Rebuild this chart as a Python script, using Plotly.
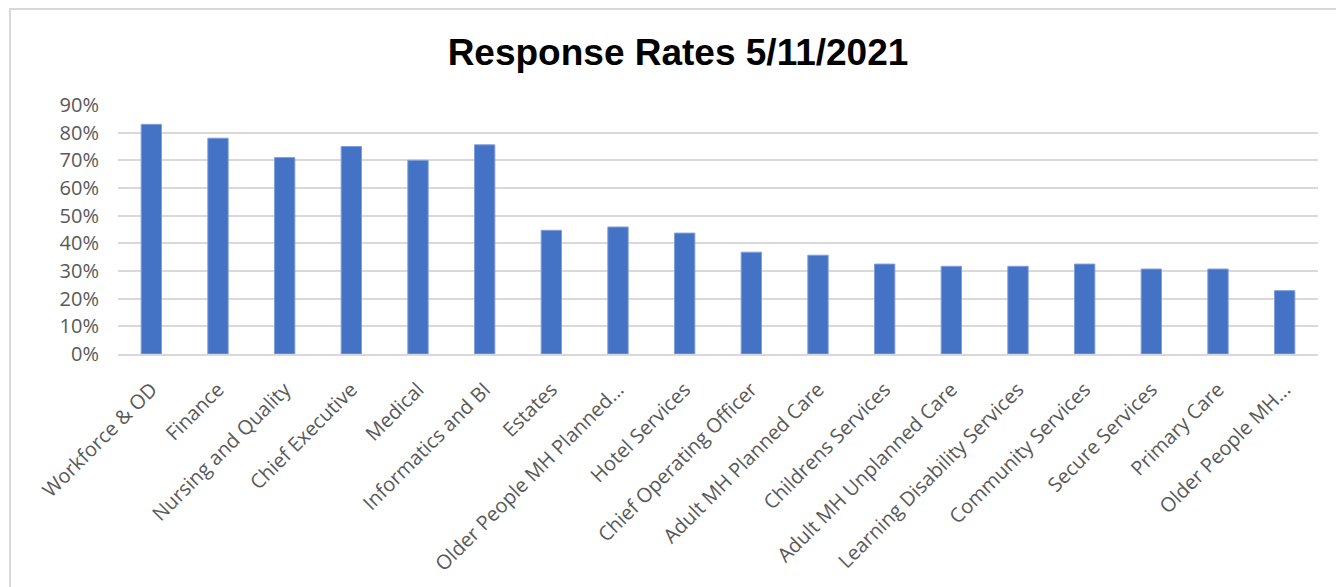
import plotly.graph_objects as go

categories = [
    "Workforce & OD", "Finance", "Nursing and Quality", "Chief Executive", "Medical",
    "Informatics and BI", "Estates", "Older People MH Planned...", "Hotel Services",
    "Chief Operating Officer", "Adult MH Planned Care", "Childrens Services",
    "Adult MH Unplanned Care", "Learning Disability Services", "Community Services",
    "Secure Services", "Primary Care", "Older People MH...",
]
response_rates = [
    0.83, 0.78, 0.71, 0.75, 0.70, 0.756, 0.447, 0.459, 0.437,
    0.368, 0.357, 0.325, 0.317, 0.317, 0.325, 0.307, 0.307, 0.229,
]
y_tick_values = [0, 0.1, 0.2, 0.3, 0.4, 0.5, 0.6, 0.7, 0.8, 0.9]
title_text = "Response Rates 5/11/2021"

W, H = 1336, 587
L, R, T, B = 118, 18, 105, 233
pw, ph = W - L - R, H - T - B

def px_x(px):
    return (px - L) / pw

def px_y(py):
    return (H - B - py) / ph

fig = go.Figure(
    go.Bar(
        x=categories,
        y=response_rates,
        marker=dict(color="#4472C4", line=dict(color="#7f9fdc", width=1)),
        hoverinfo="skip",
    )
)

fig.update_layout(
    width=W,
    height=H,
    margin=dict(l=L, r=R, t=T, b=B, pad=0, autoexpand=False),
    paper_bgcolor="white",
    plot_bgcolor="white",
    bargap=0.695,
    showlegend=False,
    title=dict(
        text="<b>" + title_text + "</b>",
        font=dict(family="Liberation Sans, Arial", size=37, color="black"),
        x=678 / W,
        xanchor="center",
        xref="container",
        yref="container",
        y=1 - 52 / H,
        yanchor="middle",
    ),
    font=dict(family="Open Sans", color="#595959"),
    shapes=[
        dict(
            type="rect",
            xref="paper",
            yref="paper",
            x0=px_x(10),
            x1=px_x(1360),
            y0=px_y(620),
            y1=px_y(9),
            line=dict(color="#d9d9d9", width=2),
            fillcolor="rgba(0,0,0,0)",
            layer="below",
        )
    ],
)

fig.update_yaxes(
    range=[0, 0.9],
    tickvals=y_tick_values,
    tickformat=".0%",
    showgrid=True,
    gridcolor="#d9d9d9",
    gridwidth=2,
    zeroline=False,
    showline=False,
    ticks="",
    ticklabelstandoff=18,
    tickfont=dict(family="Open Sans", size=20, color="#595959"),
    automargin=False,
    fixedrange=True,
)

fig.update_xaxes(
    tickangle=-45,
    showgrid=False,
    showline=True,
    linecolor="#d9d9d9",
    linewidth=2,
    ticks="",
    ticklabelstandoff=14,
    tickfont=dict(family="Open Sans", size=20, color="#595959"),
    automargin=False,
    fixedrange=True,
)

fig.write_html("out.html", config={"displayModeBar": False})
